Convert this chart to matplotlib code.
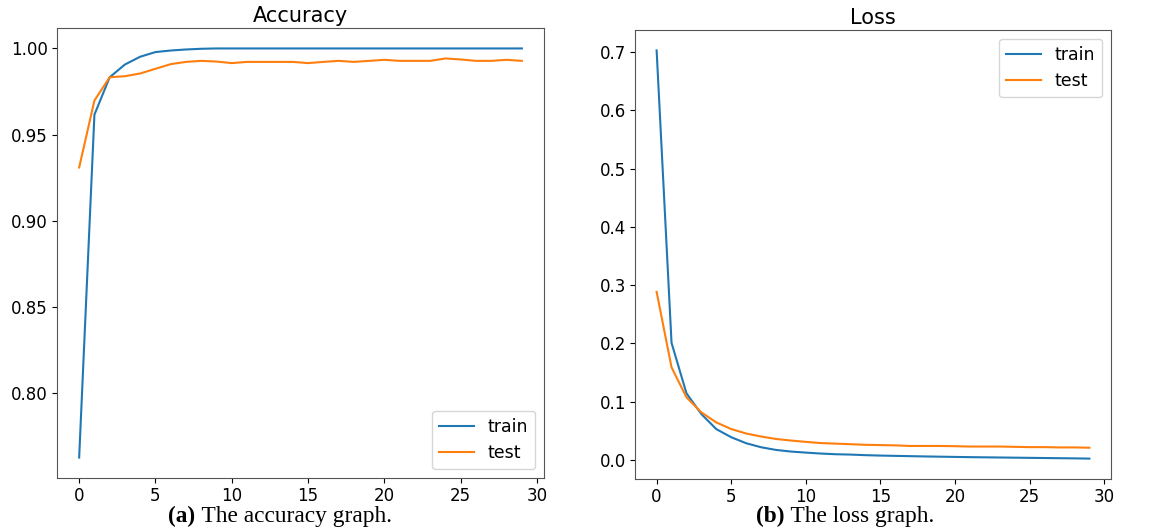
import matplotlib
matplotlib.use("Agg")
import matplotlib.pyplot as plt

epochs = list(range(30))

acc_train = [0.7628, 0.9616, 0.9833, 0.9907, 0.9952, 0.9979, 0.9988, 0.9994, 0.9998, 1.0,
             1.0, 1.0, 1.0, 1.0, 1.0, 1.0, 1.0, 1.0, 1.0, 1.0,
             1.0, 1.0, 1.0, 1.0, 1.0, 1.0, 1.0, 1.0, 1.0, 1.0]
acc_test = [0.9310, 0.9698, 0.9833, 0.9839, 0.9855, 0.9882, 0.9909, 0.9922, 0.9928, 0.9924,
            0.9915, 0.9922, 0.9922, 0.9922, 0.9922, 0.9915, 0.9922, 0.9928, 0.9922, 0.9928,
            0.9934, 0.9928, 0.9928, 0.9928, 0.9942, 0.9936, 0.9928, 0.9928, 0.9934, 0.9928]

loss_train = [0.703, 0.201, 0.1144, 0.0787, 0.0529, 0.039, 0.0287, 0.0218, 0.0172, 0.0144,
              0.0126, 0.011, 0.0098, 0.0092, 0.0082, 0.0075, 0.0070, 0.0065, 0.0060, 0.0056,
              0.0052, 0.0048, 0.0045, 0.0042, 0.0039, 0.0036, 0.0033, 0.0030, 0.0027, 0.0023]
loss_test = [0.2885, 0.159, 0.1075, 0.0816, 0.0644, 0.053, 0.0454, 0.0402, 0.036, 0.0333,
             0.031, 0.029, 0.028, 0.027, 0.026, 0.0255, 0.025, 0.024, 0.024, 0.024,
             0.0236, 0.023, 0.023, 0.023, 0.0225, 0.022, 0.022, 0.0215, 0.0215, 0.021]

titles = ["Accuracy", "Loss"]
captions_bold = ["(a)", "(b)"]
captions_text = [" The accuracy graph.", " The loss graph."]

fig = plt.figure(figsize=(11.52, 5.31), dpi=100)
ax1 = fig.add_axes([0.0495, 0.0998, 0.4227, 0.8475])
ax2 = fig.add_axes([0.5512, 0.0979, 0.4132, 0.8456])

ax1.plot(epochs, acc_train, color="#1f77b4", lw=1.5, label="train")
ax1.plot(epochs, acc_test, color="#ff7f0e", lw=1.5, label="test")
ax1.set_title(titles[0], fontsize=15, pad=4)
ax1.set_yticks([0.80, 0.85, 0.90, 0.95, 1.00])
ax1.legend(loc="lower right", fontsize=12.5)

ax2.plot(epochs, loss_train, color="#1f77b4", lw=1.5, label="train")
ax2.plot(epochs, loss_test, color="#ff7f0e", lw=1.5, label="test")
ax2.set_title(titles[1], fontsize=15, pad=4)
ax2.set_yticks([0.0, 0.1, 0.2, 0.3, 0.4, 0.5, 0.6, 0.7])
ax2.legend(loc="upper right", fontsize=12.5)

for ax in (ax1, ax2):
    ax.set_xticks([0, 5, 10, 15, 20, 25, 30])
    ax.tick_params(labelsize=12, pad=3)
    for s in ax.spines.values():
        s.set_color("#555555")

# captions: bold label followed by regular text, centred as a whole
fig.canvas.draw()
renderer = fig.canvas.get_renderer()
for cx, base, b, t in [(280, 522, captions_bold[0], captions_text[0]),
                       (845, 522, captions_bold[1], captions_text[1])]:
    y = 1 - base / 531
    tb = fig.text(0, y, b, fontsize=16.8, family="Liberation Serif",
                  fontweight="bold", ha="left", va="baseline")
    tt = fig.text(0, y, t, fontsize=16.8, family="Liberation Serif",
                  ha="left", va="baseline")
    wb = tb.get_window_extent(renderer).width
    wt = tt.get_window_extent(renderer).width
    x0 = cx - (wb + wt) / 2
    tb.set_x(x0 / 1152)
    tt.set_x((x0 + wb) / 1152)

fig.savefig("out.png", dpi=100)
